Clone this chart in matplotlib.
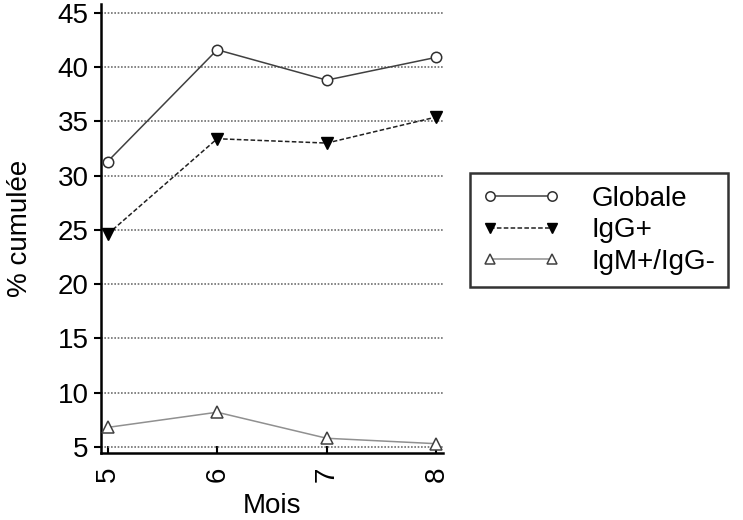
import matplotlib
matplotlib.use("Agg")
import matplotlib.pyplot as plt

plt.rcParams["font.family"] = ["Liberation Sans", "DejaVu Sans"]

# Data
mois = [5, 6, 7, 8]
globale = [31.3, 41.6, 38.8, 40.9]
igg_pos = [24.6, 33.4, 33.0, 35.4]
igm_pos_igg_neg = [6.8, 8.2, 5.8, 5.3]

fig = plt.figure(figsize=(7.43, 5.2), dpi=100)
ax = fig.add_axes([0.136, 0.129, 0.46, 0.863])

ax.plot(mois, globale, color="#404040", lw=1.1, marker="o", ms=7.5,
        mfc="white", mec="#303030", mew=1.1, label="Globale", zorder=3)
ax.plot(mois, igg_pos, color="#202020", lw=1.1, ls=(0, (3, 1.5)), marker="v",
        ms=8, mfc="black", mec="black", label="IgG+", zorder=3)
ax.plot(mois, igm_pos_igg_neg, color="#909090", lw=1.1, marker="^", ms=8,
        mfc="white", mec="#404040", mew=1.1, label="IgM+/IgG-", zorder=3)

ax.set_xlim(4.94, 8.06)
ax.set_ylim(4.45, 45.8)
ax.set_xticks(mois)
ax.set_yticks(range(5, 50, 5))
ax.set_xticklabels([str(m) for m in mois], rotation=90)
ax.tick_params(axis="x", direction="in", length=5, width=1.5, labelsize=20, pad=10)
ax.tick_params(axis="y", direction="out", length=5, width=1.5, labelsize=20, pad=4)

ax.yaxis.grid(True, ls=(0, (1, 1)), color="#707070", lw=1.2)
ax.set_axisbelow(True)

for s in ["top", "right"]:
    ax.spines[s].set_visible(False)
for s in ["left", "bottom"]:
    ax.spines[s].set_linewidth(1.8)

ax.set_xlabel("Mois", fontsize=20, labelpad=8)
ax.set_ylabel("% cumulée", fontsize=20, labelpad=18)

leg = ax.legend(loc="center left", bbox_to_anchor=(0.632, 0.557),
                bbox_transform=fig.transFigure, numpoints=2, fontsize=20,
                frameon=True, fancybox=False, edgecolor="black",
                handlelength=2.8, borderpad=0.45, labelspacing=0.2,
                handletextpad=1.15, borderaxespad=0, markerscale=0.9)
leg.get_frame().set_linewidth(1.8)

fig.savefig("out.png", dpi=100)
